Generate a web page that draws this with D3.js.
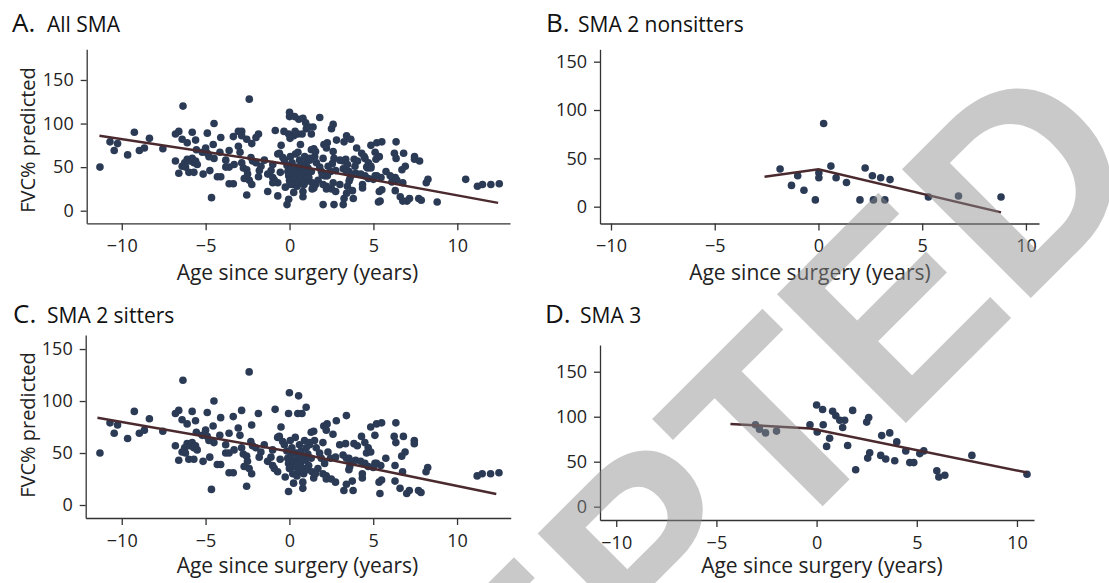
<!DOCTYPE html>
<html>
<head>
<meta charset="utf-8">
<script src="https://cdn.jsdelivr.net/npm/d3@7"></script>
<style>
  body { margin: 0; background: #fff; }
  svg { display: block; }
</style>
</head>
<body>
<div id="chart"></div>
<script>
// tick values shared by all panels
var xTicks = [-10, -5, 0, 5, 10]
var yTicks = [0, 50, 100, 150]

// SMA 2 sitters: [years since surgery, FVC% predicted]
var sitters = [
  [-11.3,50],[-10.7,79],[-10.45,69],[-10.25,77],[-9.65,64],[-9.25,90],[-8.95,69],[-8.65,72],[-8.35,83],[-7.55,71],
  [-6.8,88],[-6.6,91],[-6.8,57],[-6.35,120],[-6.4,82],[-6.1,78],[-5.8,90],[-5.6,81],[-5.55,70],
  [-6.6,43],[-6.4,51],[-6.25,55],[-6.1,59],[-5.95,57],[-5.8,60],[-5.7,55],[-5.6,57],[-6.0,44],[-5.7,44],[-6.2,50],[-5.5,53],
  [-5.2,67],[-5.15,42],[-4.9,89],
  [-4.75,46],[-4.65,15],[-4.55,76],[-4.5,100],[-4.1,84],[-4.15,67],[-4.3,39],[-4.1,39],[-4.5,60],[-4.8,62],[-5.0,72],[-4.9,66],
  [-3.8,58],[-3.6,50],[-3.6,69],[-3.35,85],[-3.6,31],[-3.35,31],[-3.05,74],[-2.95,67],[-2.85,91],[-3.8,50],[-3.3,53],
  [-2.85,55],[-2.75,49],[-2.55,47],[-2.5,42],[-2.7,37],[-2.4,35],[-2.25,30],[-2.55,18],[-2.4,128],[-2.25,77],[-2.3,61],[-2.2,57],
  [-1.85,88],[-2.0,55],[-1.7,51],[-1.3,42],[-1.0,38],[-0.7,32],[-0.85,92],[-1.0,53],[-0.5,75],[-0.6,66],[-0.4,61],[-0.55,44],[-0.25,27],[-0.05,13],
  [-1.5,58],[-1.8,46],[-1.1,46],[-0.9,35],[-0.7,65],
  [0,108],[0.55,105],[1.0,94],[0.5,88],[0.75,88],[-0.05,88],[0.25,21],
  [-0.3,58],[-0.15,52],[-0.1,45],[-0.05,40],[0.0,35],[0.05,62],[0.1,48],[0.15,55],[0.2,30],[0.25,42],[0.3,37],[0.35,65],
  [0.4,50],[0.45,28],[0.5,45],[0.55,33],[0.6,58],[0.65,40],[0.7,52],[0.75,36],[0.8,47],[0.85,30],[0.9,62],[0.95,43],
  [1.0,55],[1.05,34],[1.1,49],[1.15,38],[1.2,60],[1.3,45],
  [2.25,78],[2.05,76],[2.8,81],[3.4,86],[2.6,68],[1.45,71],
  [4.85,75],[5.2,78],[5.5,79],[6.35,79],[5.1,67],[6.25,66],[6.35,60],[6.8,66],[7.45,62],[7.45,59],[6.9,51],[6.7,47],
  [5.75,45],[5.2,40],[5.45,38],[6.3,38],[6.75,32],[8.25,36],[8.15,32],[5.35,22],[5.5,24],[6.3,23],[6.6,16],[7.15,14],
  [7.0,11],[7.7,14],[7.85,12],[5.4,11],[11.2,28],[11.5,30],[12.0,30],[12.5,31],
  [4.3,66],[4.5,60],[4.7,55],[4.6,50],[4.85,51],[4.35,26],[4.35,30],[3.75,23],[3.8,14],[3.25,14],[3.4,20],[3.55,45],
  [3.6,37],[3.55,34],[3.95,43],[4.25,42],[3.0,58],[3.35,59],[3.85,59],[4.05,57],[2.3,51],[2.45,45],[2.75,46],[2.2,25],
  [2.5,25],[2.75,22],[2.0,30],[2.2,28],[1.45,26],[1.35,32],[1.55,30],[0.8,16],[0.8,22],
  [1.6,55],[1.8,50],[2.0,60],[1.5,62],[1.9,45],[2.1,40],[2.2,72],[1.7,35],[1.3,70],[1.2,58],[3.2,48],[3.4,45],[3.7,41],
  [4.5,40],[4.7,37],[5.1,40],[5.0,36]
]

// SMA 2 nonsitters
var nonsitters = [
  [-1.85,39],[-1.0,32],[-1.3,22],[-0.7,17],[-0.15,7],[0.02,35],[0.02,30],[0.25,86],[0.6,42],[0.85,30],[1.35,25],
  [2.25,40],[2.6,32],[3.0,30],[3.45,28],[2.0,7],[2.65,7],[3.2,7],[5.3,10],[6.75,11],[8.8,10]
]

// SMA 3
var sma3 = [
  [-3.05,91],[-2.85,86],[-2.55,82],[-2.0,84],[-0.33,91],[0,113],[0.3,108],[0.03,83],[0.33,91],[0.8,106],[0.96,101],
  [1.16,96],[1.4,96],[1.3,88],[1.8,107],[0.65,76],[0.5,67],[1.55,68],[1.95,41],[2.5,94],[2.6,99],[3.25,79],[3.65,82],
  [4.0,72],[2.65,60],[2.55,54],[3.2,57],[3.45,53],[3.9,51],[4.45,62],[4.65,49],[4.85,49],[5.15,59],[5.35,62],
  [6.0,40],[6.1,33],[6.4,35],[7.75,57],[10.5,36]
]

// all SMA = every group together
var allSma = sitters.concat(nonsitters, sma3)

// fitted lines (knot at surgery)
var fitAll = [[-11.33,86],[0,53],[12.43,9]]
var fitNonsitters = [[-2.6,31],[0,38.6],[8.8,-5.9]]
var fitSitters = [[-11.45,84],[0,51.5],[12.34,10.6]]
var fitSma3 = [[-4.3,92],[-0.3,87],[10.5,38]]

var W = 1109, H = 583
var font = "'Open Sans', sans-serif"
var dotColor = "#2b3a55"
var lineColor = "#4a2a2e"
var axisColor = "#333"

var svg = d3.select("#chart").append("svg")
    .attr("width", W)
    .attr("height", H)
    .style("font-family", font)

var panels = [
  { letter: "A.", title: "All SMA", pts: allSma, fit: fitAll,
    l: 86.7, r: 510, t: 49.3, b: 223.3, xDom: [-12.09, 13.14], yDom: [-14.46, 185.2],
    tx: [12, 47, 32], xt: [297.5, 280], yt: [28, 140] },
  { letter: "B.", title: "SMA 2 nonsitters", pts: nonsitters, fit: fitNonsitters,
    l: 600, r: 1039, t: 49.3, b: 223.5, xDom: [-10.53, 10.63], yDom: [-17.4, 162.8],
    tx: [546, 578, 32], xt: [810, 280], yt: null },
  { letter: "C.", title: "SMA 2 sitters", pts: sitters, fit: fitSitters,
    l: 85.7, r: 510.7, t: 335, b: 518, xDom: [-12.15, 13.2], yDom: [-12.5, 163.5],
    tx: [13, 47, 323], xt: [297.5, 573], yt: [28, 425] },
  { letter: "D.", title: "SMA 3", pts: sma3, fit: fitSma3,
    l: 600, r: 1034, t: 345, b: 520, xDom: [-10.81, 10.85], yDom: [-14.8, 179.7],
    tx: [545, 580, 323], xt: [822, 573], yt: null }
]

panels.forEach(function(p) {
    var x = d3.scaleLinear().domain(p.xDom).range([p.l, p.r])
    var y = d3.scaleLinear().domain(p.yDom).range([p.b, p.t])
    var g = svg.append("g")

    // axes
    var gx = g.append("g")
        .attr("transform", "translate(0," + p.b + ")")
        .call(d3.axisBottom(x).tickValues(xTicks).tickSize(7).tickPadding(9).tickSizeOuter(0))
    var gy = g.append("g")
        .attr("transform", "translate(" + p.l + ",0)")
        .call(d3.axisLeft(y).tickValues(yTicks).tickSize(6).tickPadding(7).tickSizeOuter(0))
    ;[gx, gy].forEach(function(a) {
        a.selectAll("path, line").attr("stroke", axisColor).attr("stroke-width", 1.3)
        a.selectAll("text").attr("fill", "#222").style("font-size", "18px").style("font-family", font)
    })

    // points
    g.append("g").selectAll("circle")
        .data(p.pts)
        .enter()
        .append("circle")
        .attr("cx", function(d) { return x(d[0]) })
        .attr("cy", function(d) { return y(d[1]) })
        .attr("r", 3.8)
        .attr("fill", dotColor)

    // fitted line
    g.append("path")
        .datum(p.fit)
        .attr("fill", "none")
        .attr("stroke", lineColor)
        .attr("stroke-width", 2.5)
        .attr("d", d3.line().x(function(d) { return x(d[0]) }).y(function(d) { return y(d[1]) }))

    // panel title
    g.append("text")
        .attr("x", p.tx[0]).attr("y", p.tx[2])
        .attr("fill", "#111")
        .style("font-size", "26px")
        .text(p.letter)
    g.append("text")
        .attr("x", p.tx[1]).attr("y", p.tx[2])
        .attr("fill", "#111")
        .style("font-size", "21px")
        .text(p.title)

    // axis titles
    g.append("text")
        .attr("x", p.xt[0]).attr("y", p.xt[1])
        .attr("text-anchor", "middle")
        .attr("fill", "#222")
        .style("font-size", "21px")
        .text("Age since surgery (years)")
    if (p.yt) {
        g.append("text")
            .attr("text-anchor", "middle")
            .attr("dy", "0.36em")
            .attr("transform", "translate(" + p.yt[0] + "," + p.yt[1] + ") rotate(-90)")
            .attr("fill", "#222")
            .style("font-size", "20px")
            .text("FVC% predicted")
    }
})

// watermark over everything
svg.append("text")
    .attr("transform", "translate(123,1206) rotate(-45)")
    .attr("fill", "#8f8f8f")
    .attr("fill-opacity", 0.48)
    .style("font-family", "'Liberation Sans', Arial, sans-serif")
    .style("font-weight", "bold")
    .style("font-size", "265px")
    .text("ACCEPTED")
</script>
</body>
</html>
